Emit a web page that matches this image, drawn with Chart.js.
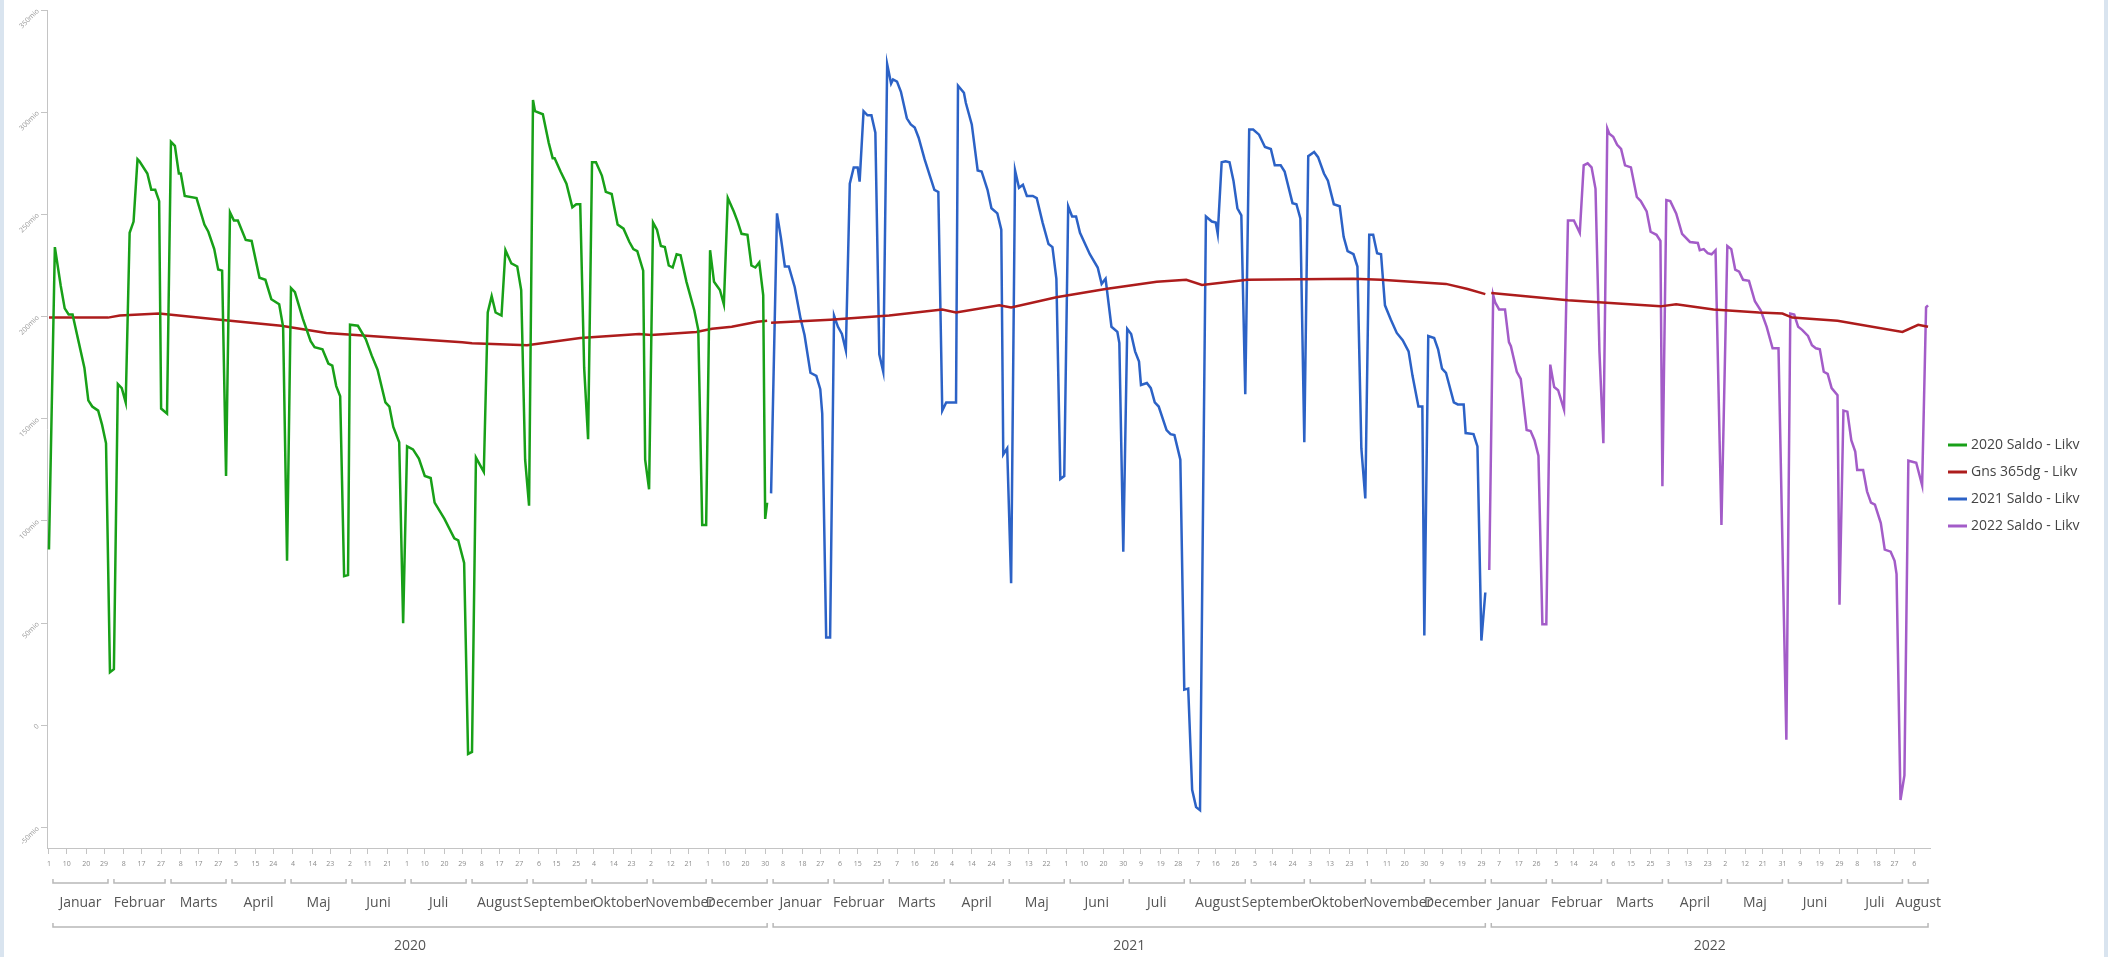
<!DOCTYPE html>
<html>
<head>
<meta charset="utf-8">
<script src="https://cdn.jsdelivr.net/npm/chart.js@4.4.0/dist/chart.umd.min.js"></script>
<style>
html, body { margin: 0; padding: 0; background: #d9e4ef; }
#frame { position: absolute; left: 4px; top: 0; width: 2100px; height: 957px; background: #fff; }
canvas { display: block; }
</style>
</head>
<body>
<div id="frame"><canvas id="likvChart" width="2100" height="957"></canvas></div>
<script>
// day index = days since 1 Jan 2020, values in mio
var days2020 = [0,3,6,8,10,12,15,18,20,22,
    25,27,29,31,33,35,37,39,41,43,
    45,46,50,52,54,56,57,60,62,64,
    66,67,69,75,79,81,84,86,88,90,
    92,94,96,100,103,107,110,113,117,119,
    121,123,125,129,133,135,139,142,144,146,
    148,150,152,153,157,161,164,167,171,173,
    175,178,180,182,185,188,191,194,196,201,
    206,208,211,213,215,217,221,223,225,227,
    230,232,235,238,240,242,244,246,247,251,
    254,256,257,260,263,266,268,270,272,274,
    276,278,281,283,286,289,292,295,297,299,
    302,303,305,307,309,311,313,315,317,319,
    321,324,328,330,332,334,336,338,341,343,
    345,348,350,352,355,357,359,361,363,364,
    365];
var saldo2020 = [86,234,215,204,201,201,188,175,159,156,
    154,147,138,26,27.5,167,165,158,241,246.5,
    277,276,270,262,262,256.5,155,152.5,285.5,283.5,
    270,270,259,258,245,241.5,233,223,222.5,122,
    251,247,247,237.5,237,219,218,208.5,206,195,
    80.5,214,212,199,188,185,184,177,176,166,
    161,73,73.5,196,195.5,189,181,174,158,156,
    146,138.5,50,136.5,135,130.5,122,121,109,101,
    91.5,90.5,79.5,-14,-13,131,124,202,210,202,
    200.5,232.5,226,224.5,213,130,107.5,306,300.5,299,
    285,277.5,277.5,271,265,253.5,255,255,175,140,
    275.5,275.5,269,261,260,245,243,236.5,233,232,
    222.5,130,115.5,246,242.5,234.5,234,225,224,230.5,
    230,217,203,193.5,98,98,232.5,217,213,206,
    258,251.5,246.5,240.5,240,225,224,226.5,210.5,101,
    109];

var days2021 = [367,370,372,374,376,379,382,384,387,390,
    392,393,395,397,399,401,403,405,407,409,
    411,412,414,416,418,420,422,424,426,428,
    429,431,433,436,438,440,442,445,448,450,
    452,454,456,461,462,465,466,469,472,474,
    477,479,482,484,485,487,489,491,493,495,
    497,500,502,505,508,510,512,514,516,518,
    520,522,524,529,533,535,537,540,543,544,
    546,548,550,552,554,555,558,560,562,564,
    568,570,572,575,577,579,581,583,585,588,
    591,593,594,596,598,600,602,604,606,608,
    610,612,615,618,621,623,626,628,632,634,
    636,638,640,643,645,648,650,653,656,658,
    660,663,665,667,669,671,673,675,677,679,
    682,685,688,691,693,696,698,699,701,704,
    706,708,710,714,716,719,720,724,726,728,
    730];
var saldo2021 = [113.5,250.5,238.5,224.5,224.5,214.5,199,191,172.5,171,
    164.5,152.5,43,43,200.5,195,191.5,183.5,265,273,
    273,266,300.5,298.5,298.5,290,181.5,173,323.5,314,
    316,315,310,297,294,292.5,287.5,277,268,262,
    261,154,158,158,313,309.5,304.5,294,271.5,271,
    262,253,250.5,242.5,132.5,135.5,69.5,271.5,263,264.5,
    259,259,258,246,235.5,234,218.5,120.5,122,254,
    249,249,241,230.5,224,216,218.5,195,192.5,187,
    85,194,191.5,183,178,166.5,167.5,165,158,156,
    144.5,142.5,142,130,17.5,18,-31.5,-40,-41.5,249,
    246.5,246,240.5,275.5,276,275.5,266.5,253,249.5,162,
    291.5,291.5,289,283,282,274,274,271,255.5,255,
    248,138.5,278.5,280.5,278,270,266.5,255,254,239,
    232,230.5,224.5,135.5,111,240,240,231,230.5,205.5,
    198.5,192,188.5,183,171,156,156,44,190.5,189.5,
    184,174.5,172.5,158,157,157,143,142.5,136.5,41.5,
    65];

var days2022 = [732,734,735,737,740,742,743,746,748,751,
    753,755,757,759,761,763,765,767,770,772,
    775,778,780,782,784,786,788,790,792,793,
    795,797,799,801,804,807,809,812,814,817,
    819,820,822,824,827,830,834,838,839,841,
    843,845,847,850,853,855,857,859,861,864,
    867,870,873,876,879,883,885,887,889,891,
    894,896,898,900,902,904,906,909,910,912,
    914,916,918,919,922,924,926,928,931,933,
    936,938,939,941,943,945,949,952,954,955];
var saldo2022 = [76,210.5,207,203.5,203.5,187.5,185.5,173,169.5,144.5,
    144,139.5,132,49.5,49.5,176.5,165.5,164,154.5,247,
    247,241,274,275,273,262.5,183,138,292,289.5,
    288,284,282,274,273,258.5,256.5,251.5,241.5,240,
    237,117,257,256.5,250.5,240.5,236.5,236,232.5,233,
    231,230.5,232.5,98,234.5,233,223,222,218,217.5,
    207.5,203,195,184.5,184.5,-7,201.5,201,195,193.5,
    190.5,186,184.5,184,173,172,165,161.5,59,154,
    153.5,139.5,134,125,125,114.5,109,108,99,86,
    85,80.5,74,-36.5,-24.5,129.5,128.5,117.5,204.5,205.5];

var avgDays = [0,30,36,56,87,118,141,178,210,215,
    243,270,300,306,329,337,347,360,365,366,
    367,397,427,454,461,483,489,512,537,563,
    578,586,609,663,677,710,721,730,731,733,
    772,819,827,846,869,881,886,909,942,950,
    955];
var avg365 = [199.5,199.5,200.5,201.5,198.5,195.5,192,189.5,187.5,187,
    186,189.5,191.5,191,192.5,194,195,197.5,198,null,
    197,198.5,200.5,203.5,202,205.5,204.5,209.5,213.5,217,
    218,215.5,218,218.5,218,216,213.5,211,null,211.5,
    208,205,206,203.5,202,201.5,199.5,198,192.5,196,
    195];

var seriesNames = ['2020 Saldo - Likv', 'Gns 365dg - Likv', '2021 Saldo - Likv', '2022 Saldo - Likv'];
var monthNames = ['Januar','Februar','Marts','April','Maj','Juni','Juli','August','September','Oktober','November','December'];
var yTicks = [-50, 0, 50, 100, 150, 200, 250, 300, 350];
var dayTickStep = 9.58;

var DAY = 86400000;
var START = Date.UTC(2020, 0, 1);
var lastDay = 955;

function toDate(d) { return new Date(START + d * DAY); }
function points(xs, ys) {
    return xs.map(function(x, i) { return {x: x, y: ys[i]}; });
}

Chart.defaults.font.family = "'Open Sans', 'Noto Sans', sans-serif";

var groupBrackets = {
    id: 'groupBrackets',
    afterDraw: function(chart) {
        var ctx = chart.ctx, xs = chart.scales.x;
        var months = [], years = [];
        for (var d = 0; d <= lastDay; d++) {
            var dt = toDate(d);
            var mKey = dt.getUTCFullYear() * 12 + dt.getUTCMonth();
            if (!months.length || months[months.length - 1].key !== mKey) {
                months.push({key: mKey, label: monthNames[dt.getUTCMonth()], first: d, last: d});
            } else {
                months[months.length - 1].last = d;
            }
            var yKey = dt.getUTCFullYear();
            if (!years.length || years[years.length - 1].key !== yKey) {
                years.push({key: yKey, label: String(yKey), first: d, last: d});
            } else {
                years[years.length - 1].last = d;
            }
        }
        ctx.save();
        ctx.strokeStyle = '#b8b8b8';
        ctx.lineWidth = 1.5;
        ctx.fillStyle = '#555';
        ctx.textAlign = 'center';
        ctx.textBaseline = 'middle';
        ctx.font = "14px 'Open Sans', sans-serif";
        function draw(list, lineY, labelY) {
            list.forEach(function(g) {
                var x1 = xs.getPixelForValue(g.first) + 4;
                var x2 = xs.getPixelForValue(g.last);
                ctx.beginPath();
                ctx.moveTo(x1, lineY - 4);
                ctx.lineTo(x1, lineY);
                ctx.lineTo(x2, lineY);
                ctx.lineTo(x2, lineY - 4);
                ctx.stroke();
                ctx.fillText(g.label, (x1 + x2) / 2, labelY);
            });
        }
        draw(months, 883, 903);
        draw(years, 927, 946);
        ctx.restore();
    }
};

var sideLegend = {
    id: 'sideLegend',
    afterDraw: function(chart) {
        var ctx = chart.ctx;
        ctx.save();
        ctx.font = "14px 'Open Sans', sans-serif";
        ctx.textBaseline = 'middle';
        ctx.fillStyle = '#444';
        chart.data.datasets.forEach(function(ds, i) {
            var y = 445 + i * 27;
            ctx.strokeStyle = ds.borderColor;
            ctx.lineWidth = 3;
            ctx.beginPath();
            ctx.moveTo(1944, y);
            ctx.lineTo(1963, y);
            ctx.stroke();
            ctx.fillText(ds.label, 1967, y);
        });
        ctx.restore();
    }
};

var ctx = document.getElementById('likvChart').getContext('2d');
var likvChart = new Chart(ctx, {
    type: 'line',
    data: {
        datasets: [
            {
                label: seriesNames[0],
                data: points(days2020, saldo2020),
                borderColor: '#18a018',
            },
            {
                label: seriesNames[1],
                data: points(avgDays, avg365),
                borderColor: '#ad1c1c',
            },
            {
                label: seriesNames[2],
                data: points(days2021, saldo2021),
                borderColor: '#2c62c6',
            },
            {
                label: seriesNames[3],
                data: points(days2022, saldo2022),
                borderColor: '#a35cc8',
            },
        ]
    },
    options: {
        responsive: false,
        animation: false,
        layout: {padding: {top: 10, right: 174, left: 0, bottom: 0}},
        elements: {
            point: {radius: 0},
            line: {borderWidth: 2.5, tension: 0, fill: false}
        },
        plugins: {
            legend: {display: false},
            tooltip: {enabled: false}
        },
        scales: {
            x: {
                type: 'linear',
                min: -1,
                max: 956,
                afterBuildTicks: function(scale) {
                    var t = [];
                    for (var k = 0; Math.floor(k * dayTickStep) <= lastDay; k++) {
                        t.push({value: Math.floor(k * dayTickStep)});
                    }
                    scale.ticks = t;
                },
                afterFit: function(scale) { scale.height = 109; },
                grid: {drawOnChartArea: false, tickLength: 6, color: '#c4c4c4'},
                border: {color: '#c4c4c4'},
                ticks: {
                    autoSkip: false,
                    maxRotation: 0,
                    minRotation: 0,
                    padding: 6,
                    color: '#8c8c8c',
                    font: {size: 7},
                    callback: function(value) {
                        return toDate(value).getUTCDate();
                    }
                }
            },
            y: {
                min: -60,
                max: 350,
                afterBuildTicks: function(scale) {
                    scale.ticks = yTicks.map(function(v) { return {value: v}; });
                },
                afterFit: function(scale) { scale.width = 43; },
                grid: {drawOnChartArea: false, tickLength: 6, color: '#c4c4c4'},
                border: {color: '#c4c4c4'},
                ticks: {
                    minRotation: 45,
                    maxRotation: 45,
                    padding: 3,
                    color: '#999',
                    font: {size: 7},
                    callback: function(value) {
                        return value === 0 ? '0' : value + 'mio';
                    }
                }
            }
        }
    },
    plugins: [groupBrackets, sideLegend]
});
</script>
</body>
</html>
